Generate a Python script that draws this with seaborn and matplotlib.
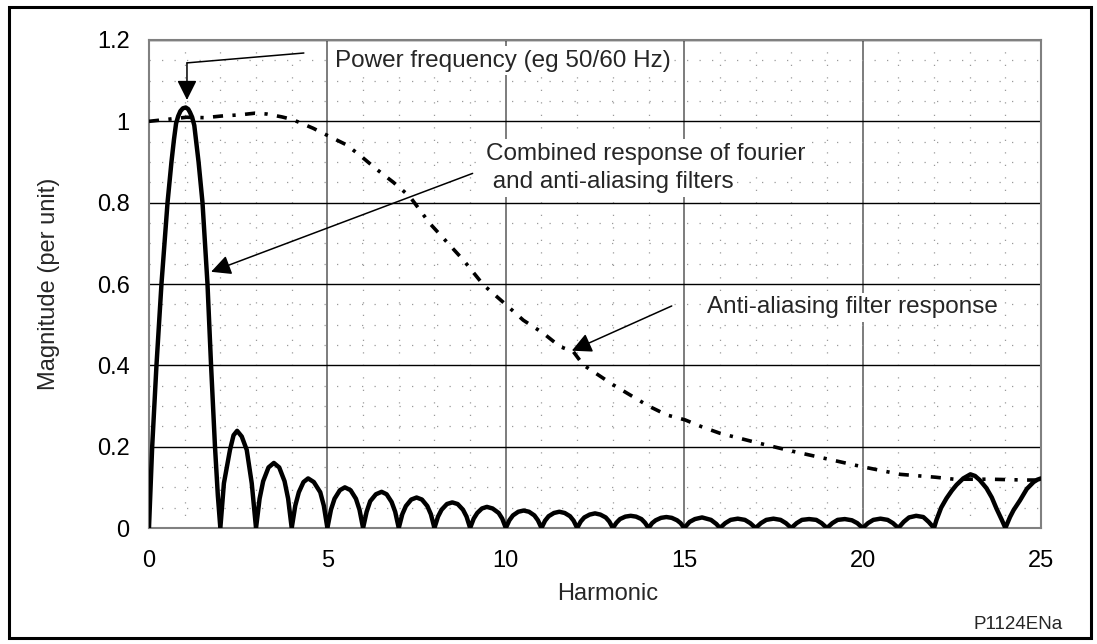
import matplotlib
matplotlib.use("Agg")
import matplotlib.pyplot as plt
from matplotlib.ticker import MultipleLocator
from matplotlib.patches import Rectangle
import pandas as pd
import seaborn as sns

# Combined response of the Fourier and anti-aliasing filters (per unit), one row per lobe
combined_harmonic = [
    0.0, 0.05, 0.09, 0.21, 0.35, 0.52, 0.63, 0.70, 0.76, 0.82, 0.88, 0.95, 1.03, 1.10, 1.15, 1.21, 1.27,
    1.39, 1.50, 1.64, 1.74, 1.85, 1.93,
    2.0, 2.10, 2.27, 2.37, 2.47, 2.60, 2.74, 2.88,
    3.0, 3.10, 3.20, 3.35, 3.50, 3.65, 3.80, 3.90,
    4.0, 4.10, 4.20, 4.33, 4.46, 4.62, 4.80, 4.90,
    5.0, 5.10, 5.20, 5.35, 5.49, 5.65, 5.80, 5.90,
    6.0, 6.10, 6.20, 6.36, 6.52, 6.66, 6.80, 6.90,
    7.0, 7.10, 7.20, 7.35, 7.50, 7.65, 7.80, 7.90,
    8.0, 8.10, 8.20, 8.35, 8.50, 8.65, 8.80, 8.90,
    9.0, 9.10, 9.20, 9.33, 9.47, 9.63, 9.80, 9.90,
    10.0, 10.10, 10.20, 10.35, 10.50, 10.65, 10.80, 10.90,
    11.0, 11.10, 11.20, 11.35, 11.50, 11.65, 11.80, 11.90,
    12.0, 12.10, 12.20, 12.35, 12.50, 12.65, 12.80, 12.90,
    13.0, 13.10, 13.20, 13.35, 13.50, 13.65, 13.80, 13.90,
    14.0, 14.10, 14.20, 14.35, 14.50, 14.65, 14.80, 14.90,
    15.0, 15.15, 15.30, 15.50, 15.75, 15.90,
    16.0, 16.15, 16.30, 16.50, 16.70, 16.85,
    17.0, 17.15, 17.30, 17.50, 17.70, 17.85,
    18.0, 18.15, 18.30, 18.50, 18.70, 18.85,
    19.0, 19.15, 19.30, 19.50, 19.70, 19.85,
    20.0, 20.15, 20.30, 20.50, 20.70, 20.85,
    21.0, 21.15, 21.30, 21.50, 21.70, 21.85,
    22.0, 22.07, 22.20, 22.35, 22.50, 22.63, 22.82, 23.02, 23.15, 23.28, 23.47, 23.62, 23.75, 23.90,
    24.0, 24.13, 24.23, 24.41, 24.60, 24.79, 24.90, 25.0,
]
combined_magnitude = [
    0.0, 0.11, 0.20, 0.40, 0.60, 0.80, 0.90, 0.955, 0.995, 1.013, 1.025, 1.032, 1.034, 1.030, 1.022, 1.010, 0.99,
    0.90, 0.80, 0.60, 0.40, 0.20, 0.08,
    0.0, 0.110, 0.192, 0.228, 0.239, 0.225, 0.192, 0.110,
    0.0, 0.072, 0.115, 0.149, 0.160, 0.149, 0.115, 0.072,
    0.0, 0.055, 0.088, 0.113, 0.122, 0.113, 0.088, 0.055,
    0.0, 0.045, 0.072, 0.093, 0.100, 0.093, 0.072, 0.045,
    0.0, 0.040, 0.066, 0.083, 0.089, 0.083, 0.064, 0.040,
    0.0, 0.034, 0.054, 0.070, 0.075, 0.070, 0.054, 0.034,
    0.0, 0.028, 0.045, 0.059, 0.063, 0.059, 0.045, 0.028,
    0.0, 0.023, 0.037, 0.048, 0.052, 0.048, 0.037, 0.023,
    0.0, 0.019, 0.031, 0.040, 0.043, 0.040, 0.031, 0.019,
    0.0, 0.018, 0.029, 0.037, 0.040, 0.037, 0.029, 0.018,
    0.0, 0.016, 0.026, 0.033, 0.036, 0.033, 0.026, 0.016,
    0.0, 0.013, 0.022, 0.028, 0.030, 0.028, 0.022, 0.013,
    0.0, 0.012, 0.019, 0.025, 0.027, 0.025, 0.019, 0.012,
    0.0, 0.015, 0.022, 0.026, 0.020, 0.010,
    0.0, 0.012, 0.020, 0.023, 0.020, 0.012,
    0.0, 0.012, 0.020, 0.023, 0.020, 0.012,
    0.0, 0.012, 0.020, 0.022, 0.020, 0.012,
    0.0, 0.012, 0.020, 0.022, 0.019, 0.012,
    0.0, 0.012, 0.020, 0.023, 0.020, 0.012,
    0.0, 0.015, 0.026, 0.030, 0.027, 0.015,
    0.0, 0.020, 0.050, 0.073, 0.092, 0.106, 0.122, 0.132, 0.128, 0.118, 0.098, 0.075, 0.048, 0.020,
    0.0, 0.027, 0.044, 0.068, 0.096, 0.113, 0.119, 0.122,
]

# Anti-aliasing filter response (per unit)
antialias_harmonic = [
    0.0, 1.05, 1.57, 2.03, 2.55, 2.97, 3.30, 3.72, 4.00, 4.14, 4.60, 5.03, 5.54, 5.96,
    6.38, 6.85, 7.31, 7.87, 8.81, 9.37, 10.02, 10.49, 11.05, 11.52, 11.89, 12.17,
    13.01, 14.00, 14.51, 15.02, 15.49, 16.00, 17.03, 17.97, 18.95, 19.97, 21.05,
    22.03, 22.56, 23.57, 24.55, 25.0,
]
antialias_magnitude = [
    1.000, 1.010, 1.009, 1.013, 1.016, 1.020, 1.018, 1.011, 1.005, 1.000, 0.983, 0.964, 0.942, 0.913,
    0.882, 0.850, 0.815, 0.749, 0.659, 0.598, 0.548, 0.511, 0.479, 0.446, 0.434, 0.401,
    0.352, 0.300, 0.278, 0.266, 0.249, 0.233, 0.210, 0.190, 0.171, 0.151, 0.132,
    0.125, 0.120, 0.120, 0.118, 0.118,
]

x_ticks = [0, 5, 10, 15, 20, 25]
y_ticks = [0.0, 0.2, 0.4, 0.6, 0.8, 1.0, 1.2]
y_tick_labels = ["0", "0.2", "0.4", "0.6", "0.8", "1", "1.2"]

combined = pd.DataFrame({"Harmonic": combined_harmonic, "Magnitude": combined_magnitude})
antialias = pd.DataFrame({"Harmonic": antialias_harmonic, "Magnitude": antialias_magnitude})

sns.set_style("white")
plt.rcParams["font.family"] = ["Liberation Sans", "DejaVu Sans"]

FS = 17
FS_NOTE = 17.5

fig = plt.figure(figsize=(10.97, 6.44), dpi=100)
ax = fig.add_axes([0.1358, 0.1801, 0.8132, 0.7578])

# Outer frame around the whole figure
fig.patches.append(Rectangle((0.0082, 0.0093), 0.9863, 0.9798, transform=fig.transFigure,
                             fill=False, edgecolor="black", linewidth=2.2, zorder=10))

# Grid: solid majors, dotted minors
ax.set_axisbelow(True)
ax.xaxis.set_minor_locator(MultipleLocator(1))
ax.yaxis.set_minor_locator(MultipleLocator(0.05))
ax.grid(which="minor", color="#9a9a9a", linewidth=0.9, linestyle=(0, (1, 9)))
ax.yaxis.grid(which="major", color="black", linewidth=1.0)
ax.xaxis.grid(which="major", color="#666666", linewidth=1.2)

sns.lineplot(data=antialias, x="Harmonic", y="Magnitude", ax=ax, sort=False, estimator=None,
             color="black", linewidth=2.6, linestyle=(0, (2.8, 2.6, 0.9, 2.6)), zorder=3)
sns.lineplot(data=combined, x="Harmonic", y="Magnitude", ax=ax, sort=False, estimator=None,
             color="black", linewidth=3.2, solid_joinstyle="round", solid_capstyle="round",
             zorder=4)

ax.set_xlim(0, 25)
ax.set_ylim(0, 1.2)
ax.set_xticks(x_ticks)
ax.set_yticks(y_ticks, labels=y_tick_labels)

for side in ["left", "right", "top", "bottom"]:
    ax.spines[side].set_visible(True)
    ax.spines[side].set_color("#808080")
    ax.spines[side].set_linewidth(1.5)

ax.tick_params(axis="both", which="major", direction="out", length=5, width=1,
               color="#555555", labelsize=FS, labelcolor="black")
ax.tick_params(axis="x", which="major", pad=11)
ax.tick_params(axis="y", which="major", pad=9)
ax.tick_params(which="minor", length=0)

ax.set_xlabel("Harmonic", fontsize=FS)
ax.set_ylabel("Magnitude (per unit)", fontsize=FS)
ax.xaxis.set_label_coords(0.5146, -0.112)
ax.yaxis.set_label_coords(-0.100, 0.5)

box = dict(boxstyle="square,pad=0.15", facecolor="white", edgecolor="none")
arrow_head = dict(arrowstyle="-|>,head_length=0.6,head_width=0.3", mutation_scale=20,
                  color="black", lw=1.1, shrinkA=0, shrinkB=0)
leader = dict(arrowstyle="-", color="black", lw=1.1, shrinkA=0, shrinkB=0)

# Power frequency callout with an elbow leader
ax.text(5.21, 1.134, "Power frequency (eg 50/60 Hz)", fontsize=FS_NOTE, va="baseline", ha="left",
        bbox=box, zorder=5)
ax.annotate("", xy=(1.065, 1.1437), xytext=(4.34, 1.168), arrowprops=leader,
            annotation_clip=False, zorder=6)
ax.annotate("", xy=(1.065, 1.0525), xytext=(1.065, 1.1437), arrowprops=arrow_head,
            annotation_clip=False, zorder=6)

# Combined response callout
ax.text(9.445, 0.905, "Combined response of fourier", fontsize=FS_NOTE, va="baseline", ha="left",
        bbox=box, zorder=5)
ax.text(9.445, 0.836, " and anti-aliasing filters", fontsize=FS_NOTE, va="baseline", ha="left",
        bbox=box, zorder=5)
ax.annotate("", xy=(1.74, 0.630), xytext=(9.07, 0.872), arrowprops=arrow_head, zorder=6)

# Anti-aliasing filter callout
ax.text(15.65, 0.528, "Anti-aliasing filter response", fontsize=FS_NOTE, va="baseline", ha="left",
        bbox=box, zorder=5)
ax.annotate("", xy=(11.85, 0.436), xytext=(14.65, 0.546), arrowprops=arrow_head, zorder=6)

fig.text(0.887, 0.0233, "P1124ENa", fontsize=13.5, ha="left", va="baseline")

fig.savefig("out.png", dpi=100)
